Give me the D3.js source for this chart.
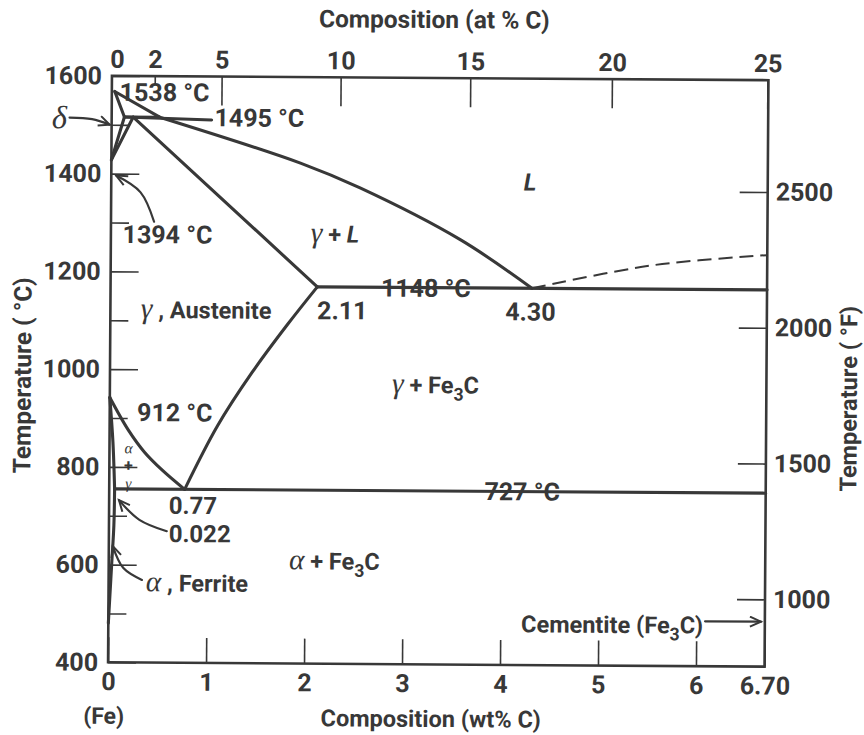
<!DOCTYPE html>
<html>
<head>
<meta charset="utf-8">
<script src="https://cdn.jsdelivr.net/npm/d3@7"></script>
<style>
  body { margin: 0; background: #fff; }
  svg { display: block; }
  .t { font-family: Roboto, "Liberation Sans", sans-serif; font-weight: 700; fill: #383838; }
  .g { font-family: "Liberation Serif", "DejaVu Serif", serif; font-style: italic; font-weight: 400; }
  .it { font-style: italic; }
</style>
</head>
<body>
<svg width="864" height="735"></svg>
<script>
// Axis ticks
const wtTicks = [0, 1, 2, 3, 4, 5, 6, 6.70]
const atTicks = [0, 2, 5, 10, 15, 20, 25]
const tempMajor = [400, 600, 800, 1000, 1200, 1400, 1600]
const tempMinor = [500, 700, 900, 1100, 1300, 1500]
const tempF = [1000, 1500, 2000, 2500]

// Phase boundaries, [wt% C, °C]
const deltaLiquidus = [[0.03, 1568], [0.49, 1516]]
const deltaSolidus = [[0.03, 1568], [0.13, 1516]]
const peritectic = [[0.13, 1516], [0.49, 1516]]
const deltaSolvus = [[0.13, 1516], [0, 1428]]
const gammaDelta = [[0, 1428], [0.22, 1516]]
const gammaLiquidus = [[0.49, 1516], [1.93, 1424], [2.54, 1374], [3.57, 1269], [4.30, 1171]]
const gammaSolidus = [[0.22, 1516], [2.11, 1171]]
const eutectic = [[2.11, 1171], [6.70, 1171]]
const acm = [[2.11, 1171], [1.81, 1094], [1.45, 995], [1.10, 885], [0.77, 755]]
const a3 = [[0, 942], [0.19, 876], [0.36, 830], [0.54, 794], [0.77, 755]]
const alphaUpper = [[0, 942], [0.035, 850], [0.055, 755]]
const alphaLower = [[0.055, 755], [0.05, 680], [0.03, 600], [0.01, 520], [0, 480]]
const eutectoid = [[0.055, 755], [6.70, 755]]
const cementiteLiquidus = [[4.30, 1171], [5.54, 1220], [6.70, 1242]]

// Leader arrows
const arrows = [
  [[-0.43, 1514], [-0.20, 1511], [-0.02, 1500]],
  [[0.44, 1302], [0.30, 1362], [0.05, 1396]],
  [[0.59, 669], [0.31, 692], [0.10, 732]],
  [[0.34, 569], [0.15, 593], [0.04, 638]],
  [[6.09, 492], [6.66, 492]],
]
const leader1495 = [[0.13, 1516], [1.02, 1511]]

// Annotations: position in [wt%, °C] of the text baseline
const notes = [
  { w: 0.08, T: 1549, parts: [['1538 °C']] },
  { w: 1.05, T: 1498, parts: [['1495 °C']] },
  { w: 0.12, T: 1258, parts: [['1394 °C']] },
  { w: -0.61, T: 1492, parts: [['δ', 'g']], size: 26 },
  { w: 0.28, T: 894, parts: [['912 °C']] },
  { w: 0.61, T: 705, parts: [['0.77']], size: 24 },
  { w: 0.61, T: 647, parts: [['0.022']], size: 24 },
  { w: 0.38, T: 546, parts: [['α', 'g'], [' , Ferrite']], size: 23.5 },
  { w: 1.84, T: 593, parts: [['α', 'g'], [' + Fe'], ['3', 'sub'], ['C']], size: 23.5 },
  { w: 2.88, T: 955, parts: [['γ', 'g'], [' + Fe'], ['3', 'sub'], ['C']], size: 23.5 },
  { w: 0.31, T: 1105, parts: [['γ', 'g'], [' , Austenite']], size: 23.5 },
  { w: 2.04, T: 1262, parts: [['γ', 'g'], [' + '], ['L', 'it']], size: 23.5 },
  { w: 4.21, T: 1371, parts: [['L', 'it']], size: 24 },
  { w: 2.11, T: 1105, parts: [['2.11']] },
  { w: 4.03, T: 1105, parts: [['4.30']] },
  { w: 2.76, T: 1152, parts: [['1148 °C']] },
  { w: 3.83, T: 737, parts: [['727 °C']] },
  { w: 6.07, T: 467, parts: [['Cementite (Fe'], ['3', 'sub'], ['C)']], size: 23.5, anchor: 'end' },
  // small stacked "α + γ" in the two-phase sliver
  { w: 0.195, T: 828, parts: [['α', 'g']], size: 12.4, anchor: 'middle' },
  { w: 0.195, T: 792, parts: [['+']], size: 16, anchor: 'middle' },
  { w: 0.195, T: 756, parts: [['γ', 'g']], size: 12.4, anchor: 'middle' },
]

const ink = '#383838'
const pl = 110, pr = 766.5, pt = 78, pb = 664.5

const x = d3.scaleLinear().domain([0, 6.70]).range([pl, pr])
const y = d3.scaleLinear().domain([400, 1600]).range([pb, pt])
const yF = d3.scaleLinear().domain([400 * 1.8 + 32, 1600 * 1.8 + 32]).range([pb, pt])
const atToWt = a => 100 * a * 12.011 / (a * 12.011 + (100 - a) * 55.845)

const svg = d3.select('svg')
svg.append('rect').attr('width', 864).attr('height', 735).attr('fill', '#fff')

const defs = svg.append('defs')
defs.append('marker')
  .attr('id', 'head')
  .attr('markerUnits', 'userSpaceOnUse')
  .attr('markerWidth', 16).attr('markerHeight', 14)
  .attr('refX', 12).attr('refY', 6)
  .attr('orient', 'auto')
  .append('path')
  .attr('d', 'M1,1 L12,6 L1,11')
  .attr('fill', 'none').attr('stroke', ink).attr('stroke-width', 2)

// the scanned figure sits slightly rotated
const root = svg.append('g').attr('transform', 'rotate(0.38,437,371)')

function styleAxis(g) {
  g.attr('font-size', null).attr('font-family', null).attr('color', ink)
  g.select('.domain').remove()
  g.selectAll('.tick line').attr('stroke-width', 1.6)
  g.selectAll('.tick text').attr('class', 't').attr('font-size', 25)
}

root.append('g')
  .attr('transform', `translate(0,${pb})`)
  .call(d3.axisBottom(x).tickValues(wtTicks).tickSize(-25).tickPadding(10)
    .tickFormat(d => d === 6.70 ? '6.70' : d))
  .call(styleAxis)

const axTop = root.append('g')
  .attr('transform', `translate(0,${pt})`)
  .call(d3.axisTop(x).tickValues(atTicks.map(atToWt)).tickSize(-29).tickPadding(8)
    .tickFormat((d, i) => atTicks[i]))
  .call(styleAxis)
axTop.selectAll('.tick line').filter((d, i) => atTicks[i] === 2).attr('y2', 8)
axTop.selectAll('.tick line').filter((d, i) => atTicks[i] === 0).remove()
axTop.selectAll('.tick text').filter((d, i) => atTicks[i] === 0).attr('dx', 5)

root.append('g')
  .attr('transform', `translate(${pl},0)`)
  .call(d3.axisLeft(y).tickValues(tempMajor).tickSize(-28).tickPadding(10).tickFormat(d3.format('d')))
  .call(styleAxis)

root.append('g')
  .attr('transform', `translate(${pl},0)`)
  .call(d3.axisLeft(y).tickValues(tempMinor).tickSize(-18).tickFormat(''))
  .call(styleAxis)

root.append('g')
  .attr('transform', `translate(${pr},0)`)
  .call(d3.axisRight(yF).tickValues(tempF).tickSize(-28).tickPadding(8).tickFormat(d3.format('d')))
  .call(styleAxis)

root.append('rect')
  .attr('x', pl).attr('y', pt)
  .attr('width', pr - pl).attr('height', pb - pt)
  .attr('fill', 'none').attr('stroke', ink).attr('stroke-width', 2.6)

// Axis titles
root.append('text').attr('class', 't').attr('font-size', 24.5)
  .attr('x', 432).attr('y', 28).attr('text-anchor', 'middle')
  .text('Composition (at % C)')
root.append('text').attr('class', 't').attr('font-size', 23.5)
  .attr('x', 433).attr('y', 727).attr('text-anchor', 'middle')
  .text('Composition (wt% C)')
root.append('text').attr('class', 't').attr('font-size', 23)
  .attr('x', x(0) - 4).attr('y', 726).attr('text-anchor', 'middle')
  .text('(Fe)')
root.append('text').attr('class', 't').attr('font-size', 24.5)
  .attr('transform', 'translate(31,378) rotate(-90)').attr('text-anchor', 'middle')
  .text('Temperature ( °C)')
root.append('text').attr('class', 't').attr('font-size', 23.5)
  .attr('transform', 'translate(857,396) rotate(-90)').attr('text-anchor', 'middle')
  .text('Temperature ( °F)')

// Annotations
notes.forEach(n => {
  const size = n.size || 25
  const t = root.append('text').attr('class', 't')
    .attr('x', x(n.w)).attr('y', y(n.T))
    .attr('font-size', size)
    .attr('text-anchor', n.anchor || 'start')
  let lowered = false
  n.parts.forEach(([s, kind]) => {
    const sp = t.append('tspan').text(s)
    if (kind === 'g') sp.attr('class', 'g').attr('font-size', size * 1.25)
    if (kind === 'it') sp.attr('class', 'it')
    if (kind === 'sub') {
      sp.attr('font-size', size * 0.75).attr('dy', size * 0.3)
      lowered = true
    } else if (lowered) {
      sp.attr('dy', -size * 0.3)
      lowered = false
    }
  })
})

// Phase boundaries
const straight = d3.line().x(d => x(d[0])).y(d => y(d[1]))
const curved = d3.line().x(d => x(d[0])).y(d => y(d[1])).curve(d3.curveCatmullRom)

const lines = root.append('g').attr('fill', 'none').attr('stroke', ink)
  .attr('stroke-linejoin', 'round').attr('stroke-linecap', 'round')

;[deltaLiquidus, deltaSolidus, peritectic, deltaSolvus, gammaDelta, gammaSolidus, eutectic, eutectoid, leader1495]
  .forEach(pts => lines.append('path').attr('d', straight(pts)).attr('stroke-width', 3.1))
;[gammaLiquidus, acm, a3, alphaUpper, alphaLower]
  .forEach(pts => lines.append('path').attr('d', curved(pts)).attr('stroke-width', 3.1))

lines.append('path').attr('d', curved(cementiteLiquidus))
  .attr('stroke-width', 2).attr('stroke-dasharray', '14 7').attr('stroke-linecap', 'butt')

arrows.forEach(pts => {
  lines.append('path')
    .attr('d', (pts.length > 2 ? curved : straight)(pts))
    .attr('stroke-width', 2.2)
    .attr('marker-end', 'url(#head)')
})
</script>
</body>
</html>
